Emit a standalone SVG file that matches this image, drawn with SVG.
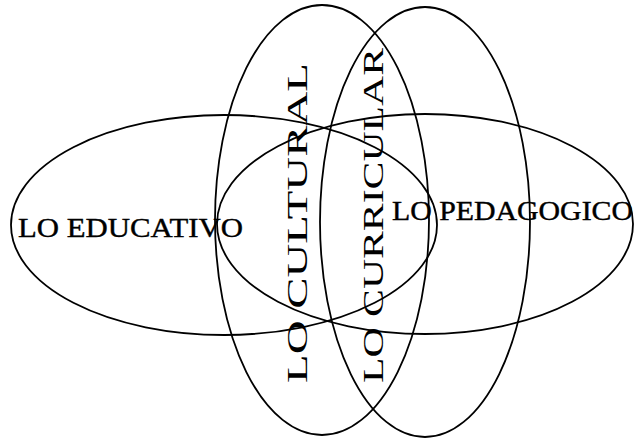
<svg xmlns="http://www.w3.org/2000/svg" width="634" height="440" viewBox="0 0 634 440">
<style>
.sh{fill:none;stroke:#000;stroke-width:1.8}
.t{font-family:"Liberation Serif","Times New Roman",serif;fill:#000;stroke:#000;stroke-width:0.4}
.v{stroke-width:0}
</style>
<rect width="634" height="440" fill="#fff"/>
<g id="educativo">
<ellipse class="sh" cx="224" cy="225" rx="213" ry="110"/>
<text class="t" x="18" y="237" font-size="28" textLength="225" lengthAdjust="spacingAndGlyphs">LO EDUCATIVO</text>
</g>
<g id="pedagogico">
<ellipse class="sh" cx="425" cy="224" rx="208" ry="110"/>
<text class="t" x="392" y="220" font-size="27" textLength="241" lengthAdjust="spacingAndGlyphs">LO PEDAGOGICO</text>
</g>
<g id="cultural">
<ellipse class="sh" cx="322" cy="220" rx="107" ry="215"/>
<text class="t v" transform="translate(307,383) rotate(-90)" x="0" y="0" font-size="29" textLength="320" lengthAdjust="spacingAndGlyphs">LO CULTURAL</text>
</g>
<g id="curricular">
<ellipse class="sh" cx="425" cy="222" rx="105" ry="215"/>
<text class="t v" transform="translate(383,383) rotate(-90)" x="0" y="0" font-size="29" textLength="335" lengthAdjust="spacingAndGlyphs">LO CURRICULAR</text>
</g>
<g id="connectors"></g>
</svg>
